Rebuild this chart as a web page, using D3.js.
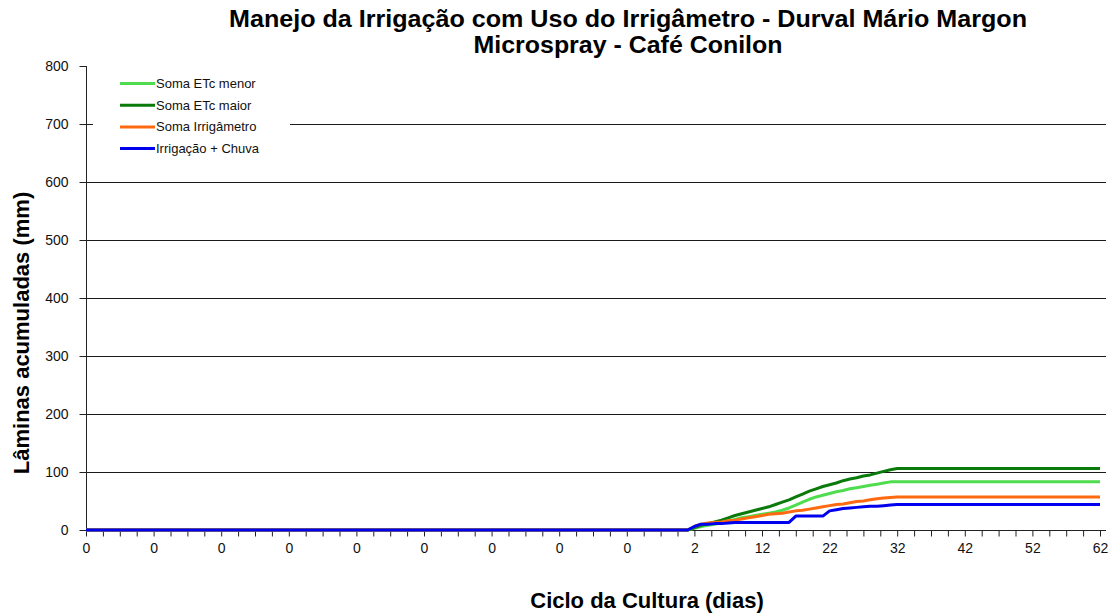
<!DOCTYPE html>
<html>
<head>
<meta charset="utf-8">
<script src="https://cdn.jsdelivr.net/npm/d3@7"></script>
<style>
    body { margin: 0; background: #fff; }
    #chart { width: 1119px; height: 613px; }
    text { font-family: "Liberation Sans", Arial, sans-serif; }
</style>
</head>
<body>
<div id="chart"></div>
<script>

// ---- data ----
const titleLines = ["Manejo da Irrigação com Uso do Irrigâmetro - Durval Mário Margon", "Microspray - Café Conilon"];
const yLabel = "Lâminas acumuladas (mm)";
const xLabel = "Ciclo da Cultura (dias)";

const seriesNames = ["Soma ETc menor", "Soma ETc maior", "Soma Irrigâmetro", "Irrigação + Chuva"];
const seriesColors = ["#4fdc4f", "#0a7a0a", "#ff6a10", "#0000ee"];

// categories before the cycle start (all labelled 0, all values 0)
const preCycleCount = 89;
// category labels shown every 10 categories
const xTickLabels = ["0", "0", "0", "0", "0", "0", "0", "0", "0", "2", "12", "22", "32", "42", "52", "62"];
const yTicks = [0, 100, 200, 300, 400, 500, 600, 700, 800];

// accumulated values, days 1..62
const etcMenor = [0, 3, 6, 8, 10, 13, 15, 18, 21, 23, 25, 27, 29, 31, 34, 38, 43, 48, 53, 57, 60, 63, 66, 68, 71, 73, 75, 77, 79, 81, 83, 83,
    83, 83, 83, 83, 83, 83, 83, 83, 83, 83, 83, 83, 83, 83, 83, 83, 83, 83, 83, 83, 83, 83, 83, 83, 83, 83, 83, 83, 83, 83];
const etcMaior = [0, 4, 8, 11, 14, 17, 21, 25, 28, 31, 34, 37, 40, 44, 48, 52, 57, 62, 67, 71, 75, 78, 81, 85, 88, 90, 93, 95, 98, 101, 104, 106,
    106, 106, 106, 106, 106, 106, 106, 106, 106, 106, 106, 106, 106, 106, 106, 106, 106, 106, 106, 106, 106, 106, 106, 106, 106, 106, 106, 106, 106, 106];
const somaIrrigametro = [0, 6, 10, 12, 13, 14, 16, 17, 19, 21, 23, 25, 27, 28, 29, 31, 33, 34, 36, 38, 40, 42, 44, 45, 47, 49, 50, 52, 54, 55, 56, 57,
    57, 57, 57, 57, 57, 57, 57, 57, 57, 57, 57, 57, 57, 57, 57, 57, 57, 57, 57, 57, 57, 57, 57, 57, 57, 57, 57, 57, 57, 57];
const irrigChuva = [0, 6, 10, 10, 11, 11, 12, 13, 13, 13, 13, 13, 13, 13, 13, 13, 24, 24, 24, 24, 24, 33, 35, 37, 38, 39, 40, 41, 41, 42, 43, 44,
    44, 44, 44, 44, 44, 44, 44, 44, 44, 44, 44, 44, 44, 44, 44, 44, 44, 44, 44, 44, 44, 44, 44, 44, 44, 44, 44, 44, 44, 44];


class IrrigationChart {

    constructor(parentElement) {
        this.parentElement = parentElement;
        this.initVis();
    }

    initVis() {
        let vis = this;

        vis.plot = {left: 86, right: 1106, top: 66, bottom: 530};
        vis.lastCat = preCycleCount + etcMenor.length - 1;

        vis.svg = d3.select("#" + vis.parentElement).append("svg")
            .attr("width", 1119)
            .attr("height", 613);

        // scales
        vis.x = d3.scaleLinear()
            .domain([0, vis.lastCat])
            .range([vis.plot.left, 1100]);

        vis.y = d3.scaleLinear()
            .domain([0, 800])
            .range([vis.plot.bottom, vis.plot.top]);

        // title (tall, condensed look)
        titleLines.forEach((t, i) => {
            vis.svg.append("text")
                .attr("x", 628)
                .attr("y", 27 + i * 26)
                .attr("text-anchor", "middle")
                .attr("font-family", "'Liberation Sans Narrow', 'Liberation Sans', Arial, sans-serif")
                .attr("font-weight", "bold")
                .attr("font-size", 23)
                .attr("textLength", i === 0 ? 798 : 309)
                .attr("lengthAdjust", "spacingAndGlyphs")
                .text(t);
        });

        vis.wrangleData();
    }

    wrangleData() {
        let vis = this;

        let all = [etcMenor, etcMaior, somaIrrigametro, irrigChuva];
        vis.series = all.map((vals, s) => {
            let pts = [{cat: 0, value: 0}];
            vals.forEach((v, i) => pts.push({cat: preCycleCount + i, value: v}));
            return {name: seriesNames[s], color: seriesColors[s], points: pts};
        });

        vis.updateVis();
    }

    updateVis() {
        let vis = this;

        // gridlines
        vis.svg.append("g")
            .selectAll("line")
            .data(yTicks.filter(d => d > 0 && d < 800))
            .enter()
            .append("line")
            .attr("x1", vis.plot.left)
            .attr("x2", vis.plot.right)
            .attr("y1", d => Math.round(vis.y(d)) + 0.5)
            .attr("y2", d => Math.round(vis.y(d)) + 0.5)
            .attr("stroke", "#1a1a1a")
            .attr("stroke-width", 1);

        // y axis
        let yAxis = d3.axisLeft(vis.y)
            .tickValues(yTicks)
            .tickSize(7)
            .tickPadding(11);

        let gy = vis.svg.append("g")
            .attr("transform", `translate(${vis.plot.left + 0.5},0)`)
            .call(yAxis);
        gy.select(".domain").attr("d", `M0,${vis.plot.top}V${vis.plot.bottom}`).attr("stroke", "#222");
        gy.selectAll(".tick line").attr("stroke", "#222");
        gy.selectAll("text")
            .attr("font-family", "'Liberation Sans', Arial, sans-serif")
            .attr("font-size", 14)
            .attr("fill", "#111");

        // x axis: ticks every 2.5 categories, labels every 10
        let xTicks = d3.range(0, vis.lastCat + 0.1, 2.5);
        let xAxis = d3.axisBottom(vis.x)
            .tickValues(xTicks)
            .tickSize(6)
            .tickPadding(7)
            .tickFormat(d => (d % 10 === 0) ? xTickLabels[d / 10] : "");

        let gx = vis.svg.append("g")
            .attr("transform", `translate(0,${vis.plot.bottom + 0.5})`)
            .call(xAxis);
        gx.select(".domain").attr("d", `M${vis.plot.left},0H${vis.plot.right}`).attr("stroke", "#222");
        gx.selectAll(".tick line").attr("stroke", "#222");
        gx.selectAll("text")
            .attr("font-family", "'Liberation Sans', Arial, sans-serif")
            .attr("font-size", 14)
            .attr("fill", "#111");

        // lines
        let line = d3.line()
            .x(d => vis.x(d.cat))
            .y(d => vis.y(d.value));

        vis.svg.append("g")
            .selectAll("path")
            .data(vis.series)
            .enter()
            .append("path")
            .attr("d", d => line(d.points))
            .attr("fill", "none")
            .attr("stroke", d => d.color)
            .attr("stroke-width", 3)
            .attr("stroke-linejoin", "round");

        // legend
        let legend = vis.svg.append("g");
        legend.append("rect")
            .attr("x", 93)
            .attr("y", 70)
            .attr("width", 197)
            .attr("height", 95)
            .attr("fill", "#fff");

        let items = legend.selectAll(".legend-item")
            .data(vis.series)
            .enter()
            .append("g")
            .attr("class", "legend-item")
            .attr("transform", (d, i) => `translate(120, ${83.5 + i * 21.7})`);

        items.append("line")
            .attr("x1", 0)
            .attr("x2", 35)
            .attr("stroke", d => d.color)
            .attr("stroke-width", 3);

        items.append("text")
            .attr("x", 36)
            .attr("y", 4.5)
            .attr("font-size", 13)
            .attr("fill", "#111")
            .text(d => d.name);

        // axis titles
        vis.svg.append("text")
            .attr("transform", `translate(29, 333) rotate(-90)`)
            .attr("text-anchor", "middle")
            .attr("font-weight", "bold")
            .attr("font-size", 22)
            .attr("fill", "#000")
            .text(yLabel);

        vis.svg.append("text")
            .attr("x", 647)
            .attr("y", 608)
            .attr("text-anchor", "middle")
            .attr("font-weight", "bold")
            .attr("font-size", 22)
            .attr("fill", "#000")
            .text(xLabel);
    }
}

new IrrigationChart("chart");

</script>
</body>
</html>
